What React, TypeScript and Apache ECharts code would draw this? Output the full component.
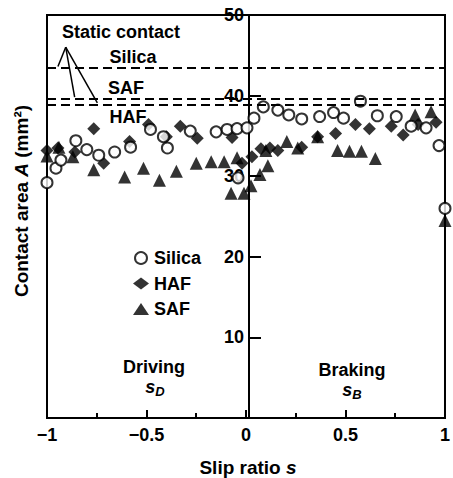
import React, { useEffect, useRef } from "react";
import * as echarts from "echarts";

// Silica (open circles): [slip ratio, contact area]
const silica: [number, number][] = [
  [-1.0, 29.2], [-0.955, 31.0], [-0.93, 32.0], [-0.855, 34.4], [-0.8, 33.3],
  [-0.74, 32.6], [-0.66, 33.0], [-0.58, 33.6], [-0.48, 35.8], [-0.415, 34.9],
  [-0.395, 33.5], [-0.28, 35.6], [-0.15, 35.5], [-0.095, 35.8], [-0.045, 35.9],
  [-0.04, 29.8], [0.005, 36.0], [0.04, 37.2], [0.087, 38.6], [0.16, 38.2],
  [0.215, 37.6], [0.28, 37.1], [0.37, 37.4], [0.44, 37.9], [0.49, 37.2],
  [0.575, 39.3], [0.66, 37.5], [0.755, 37.4], [0.83, 36.2], [0.905, 36.0],
  [0.97, 33.8], [1.0, 26.0],
];

// HAF (filled diamonds)
const haf: [number, number][] = [
  [-1.0, 33.2], [-0.945, 33.5], [-0.86, 33.0], [-0.765, 35.9], [-0.715, 31.6],
  [-0.585, 34.3], [-0.49, 36.4], [-0.4, 34.9], [-0.33, 36.2], [-0.245, 34.7],
  [-0.07, 34.8], [-0.02, 31.6], [0.03, 32.4], [0.075, 33.4], [0.12, 33.5],
  [0.16, 33.2], [0.28, 33.6], [0.36, 34.9], [0.45, 35.3], [0.55, 36.4],
  [0.62, 35.9], [0.73, 36.2], [0.79, 35.1], [0.865, 36.4], [0.955, 36.7],
];

// SAF (filled triangles)
const saf: [number, number][] = [
  [-1.0, 32.5], [-0.94, 33.6], [-0.87, 32.4], [-0.765, 30.8], [-0.61, 29.9],
  [-0.515, 31.0], [-0.435, 29.5], [-0.35, 30.6], [-0.25, 31.6], [-0.175, 31.8],
  [-0.11, 31.8], [-0.045, 32.3], [-0.075, 27.9], [-0.01, 27.9], [0.025, 28.8],
  [0.07, 30.2], [0.11, 31.3], [0.1, 33.2], [0.205, 34.3], [0.26, 33.5],
  [0.36, 34.9], [0.46, 33.2], [0.52, 33.1], [0.58, 33.1], [0.65, 32.2],
  [0.85, 37.6], [0.93, 38.0], [1.0, 24.5],
];

// Static contact levels
const staticLevels = { Silica: 43.5, SAF: 39.6, HAF: 38.9 };
// Arrow annotation: origin and arrow tips (data coords)
const arrowOrigin: [number, number] = [-0.906, 46.0];
const arrowTips: [number, number][] = [[-0.945, 43.6], [-0.861, 39.8], [-0.747, 39.1]];

const xTicks = [-1, -0.5, 0, 0.5, 1];
const yTicks = [10, 20, 30, 40, 50];

const FONT = "Liberation Sans, Arial, Helvetica, sans-serif";

const GRID_LEFT = 47;
const GRID_WIDTH = 404;

export default function App() {
  const ref = useRef<HTMLDivElement>(null);
  useEffect(() => {
    if (!ref.current) return;
    const chart = echarts.init(ref.current, undefined, { renderer: "svg" });
    const black = "#000";
    const labelStyle = { color: black, fontFamily: FONT, fontWeight: "bold" as const, fontSize: 18 };
    const txt = (text: string, x: number, y: number, extra: any = {}) => ({
      type: "text",
      x,
      y,
      style: {
        text,
        fill: black,
        font: `bold 18px ${FONT}`,
        textAlign: "center",
        textVerticalAlign: "middle",
        ...extra,
      },
    });
    const sub = (main: string, s: string, x: number, y: number) => ({
      type: "text",
      x,
      y,
      style: {
        text: `{s|${main}}{sub|${s}}`,
        textAlign: "center",
        textVerticalAlign: "middle",
        rich: {
          s: { fontFamily: FONT, fontWeight: "bold", fontStyle: "italic", fontSize: 18, fill: black, color: black },
          sub: { fontFamily: FONT, fontWeight: "bold", fontStyle: "italic", fontSize: 13, fill: black, color: black, padding: [8, 0, 0, 0] },
        },
      },
    });
    chart.setOption({
      animation: false,
      backgroundColor: "#fff",
      grid: { left: GRID_LEFT, width: GRID_WIDTH, top: 15, bottom: 60, show: true, borderColor: black, borderWidth: 2, backgroundColor: "transparent" },
      legend: {
        data: ["Silica", "HAF", "SAF"],
        orient: "vertical",
        left: 128,
        top: 244,
        itemWidth: 16,
        itemHeight: 12,
        itemGap: 7.5,
        textStyle: { ...labelStyle, fontSize: 18 },
      },
      xAxis: {
        type: "value",
        min: -1,
        max: 1,
        interval: 0.5,
        axisLine: { show: true, onZero: false, lineStyle: { color: black, width: 2 } },
        axisTick: { show: true, inside: true, length: 8, lineStyle: { color: black, width: 2 } },
        minorTick: { show: true, splitNumber: 2, length: 5, lineStyle: { color: black, width: 2 } },
        splitLine: { show: false },
        axisLabel: {
          ...labelStyle,
          margin: 8,
          formatter: (v: number) => (xTicks.includes(v) ? String(v).replace("-", "\u2212") : ""),
        },
      },
      yAxis: {
        type: "value",
        min: 0,
        max: 50,
        interval: 10,
        position: "left",
        offset: -GRID_WIDTH / 2,
        axisLine: { show: true, onZero: false, lineStyle: { color: black, width: 2 } },
        axisTick: { show: true, inside: true, length: 12, lineStyle: { color: black, width: 2 } },
        splitLine: { show: false },
        axisLabel: {
          ...labelStyle,
          margin: 5,
          formatter: (v: number) => (yTicks.includes(v) ? String(v) : ""),
        },
      },
      series: [
        {
          name: "HAF",
          type: "scatter",
          data: haf,
          symbol: "diamond",
          symbolSize: 13,
          clip: false,
          itemStyle: { color: black },
          markLine: {
            silent: true,
            symbol: "none",
            label: { show: false },
            lineStyle: { color: black, width: 2, type: [9, 5] },
            data: [
              { yAxis: staticLevels.Silica },
              { yAxis: staticLevels.SAF },
              { yAxis: staticLevels.HAF },
            ],
          },
        },
        {
          name: "SAF",
          type: "scatter",
          data: saf,
          symbol: "triangle",
          symbolSize: 13,
          clip: false,
          itemStyle: { color: black },
          markLine: {
            silent: true,
            symbol: ["none", "arrow"],
            symbolSize: [0, 9],
            label: { show: false },
            lineStyle: { color: black, width: 1.5, type: "solid" },
            data: arrowTips.map((t) => [{ coord: arrowOrigin }, { coord: t }]),
          },
        },
        {
          name: "Silica",
          type: "scatter",
          data: silica,
          symbol: "circle",
          symbolSize: 11,
          clip: false,
          itemStyle: { color: "#fff", borderColor: black, borderWidth: 2 },
        },
      ],
      graphic: [
        txt("Static contact", 62, 32, { textAlign: "left" }),
        txt("Silica", 133, 57),
        txt("SAF", 126, 88),
        txt("HAF", 128, 117),
        txt("Driving", 154, 367),
        sub("s", "D", 155, 387),
        txt("Braking", 352, 370),
        sub("s", "B", 352, 390),
        {
          type: "text",
          x: 248,
          y: 467,
          style: {
            text: "{n|Slip ratio }{i|s}",
            textAlign: "center",
            textVerticalAlign: "middle",
            rich: {
              n: { fontFamily: FONT, fontWeight: "bold", fontSize: 19, fill: black, color: black },
              i: { fontFamily: FONT, fontWeight: "bold", fontStyle: "italic", fontSize: 19, fill: black, color: black },
            },
          },
        },
        {
          type: "text",
          x: 21,
          y: 201,
          rotation: Math.PI / 2,
          style: {
            text: "{n|Contact area }{i|A}{n| (mm²)}",
            textAlign: "center",
            textVerticalAlign: "middle",
            rich: {
              n: { fontFamily: FONT, fontWeight: "bold", fontSize: 19, fill: black, color: black },
              i: { fontFamily: FONT, fontWeight: "bold", fontStyle: "italic", fontSize: 19, fill: black, color: black },
            },
          },
        },
      ],
    });
    return () => chart.dispose();
  }, []);
  return <div ref={ref} style={{ position: "fixed", left: 0, top: 0, width: 453, height: 478 }} />;
}
